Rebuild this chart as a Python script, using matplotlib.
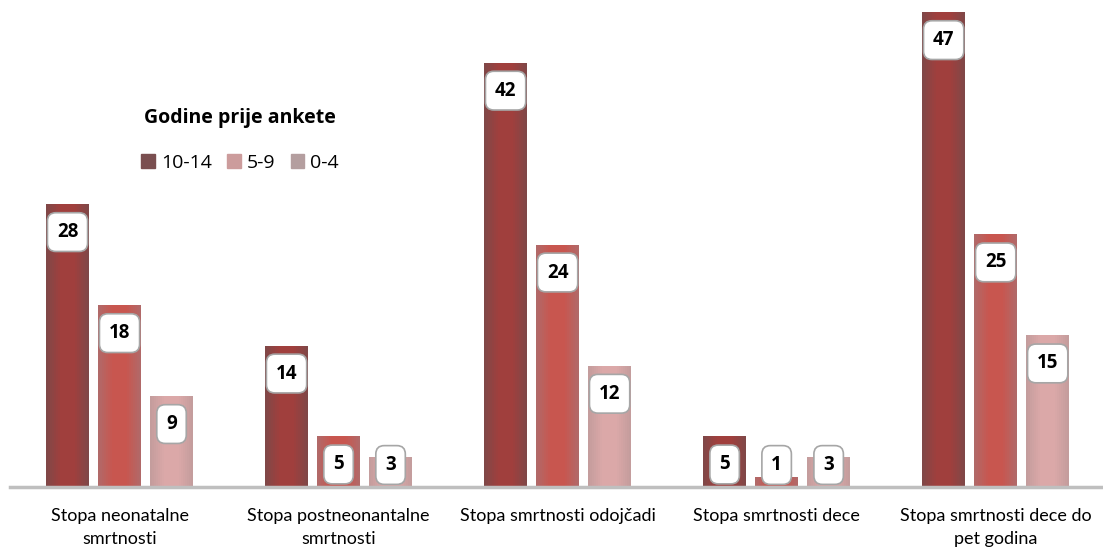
import matplotlib
matplotlib.use("Agg")
import matplotlib.pyplot as plt
import numpy as np
from matplotlib.colors import LinearSegmentedColormap
from matplotlib.patches import Patch

categories = ["Stopa neonatalne\nsmrtnosti", "Stopa postneonantalne\nsmrtnosti",
              "Stopa smrtnosti odojčadi", "Stopa smrtnosti dece",
              "Stopa smrtnosti dece do\npet godina"]
series_names = ["10-14", "5-9", "0-4"]
v_10_14 = [28, 14, 42, 5, 47]
v_5_9 = [18, 5, 24, 1, 25]
v_0_4 = [9, 3, 12, 3, 15]
values = [v_10_14, v_5_9, v_0_4]

center_cols = ["#a03f3d", "#c8564f", "#dba8a8"]
edge_cols = ["#7e4848", "#b06a6a", "#c39c9c"]
legend_cols = ["#7a4f50", "#cc9c9c", "#b49e9f"]

fig = plt.figure(figsize=(11.03, 5.48), dpi=100)
ax = fig.add_axes([10/1103, 61/548, 1 - 10/1103, 487/548])
ymax = 48.2

bw = 43/219
step = 52/219
px_per_unit = 487/ymax
nslice = 22

x = np.arange(len(categories))
for i, (vals, cc, ec) in enumerate(zip(values, center_cols, edge_cols)):
    xs = x + (i - 1) * step
    cmap = LinearSegmentedColormap.from_list("g%d" % i, [ec, cc, cc, ec])
    sw = bw / nslice
    for k in range(nslice):
        t = (k + 0.5) / nslice
        ax.bar(xs - bw/2 + k * sw, vals, width=sw * 1.05, align="edge",
               color=cmap(t), linewidth=0, zorder=2)
    for xc, val in zip(xs, vals):
        ly = max(val - 28/px_per_unit, 22/px_per_unit)
        ax.text(xc, ly, "%d" % val, ha="center", va="center",
                fontsize=13.5, fontweight="bold", color="black", zorder=5,
                fontfamily="Open Sans",
                bbox=dict(boxstyle="round,pad=0.5,rounding_size=0.45",
                          fc="white", ec="#a6a6a6", lw=1.2))

ax.set_xlim(-0.5, 4.49)
ax.set_ylim(0, ymax)
for s in ["top", "right", "left"]:
    ax.spines[s].set_visible(False)
ax.spines["bottom"].set_color("#bfbfbf")
ax.spines["bottom"].set_linewidth(2.5)
ax.spines["bottom"].set_zorder(6)
ax.set_yticks([])
ax.set_xticks(x)
ax.set_xticklabels(categories, fontsize=13, fontfamily="Lato", linespacing=1.55)
ax.tick_params(axis="x", length=0, pad=15)

handles = [Patch(color=c) for c in legend_cols]
leg = fig.legend(handles, series_names, loc="center", bbox_to_anchor=(240/1103, 1 - 140/548),
                 ncol=3, frameon=False, fontsize=14, handlelength=0.7, handleheight=0.7,
                 handletextpad=0.3, columnspacing=0.8,
                 title="Godine prije ankete",
                 title_fontproperties={"size": 14, "weight": "bold", "family": "Open Sans"},
                 prop={"family": "Open Sans", "size": 14})
leg._legend_box.sep = 18

fig.savefig("out.png", dpi=100)
